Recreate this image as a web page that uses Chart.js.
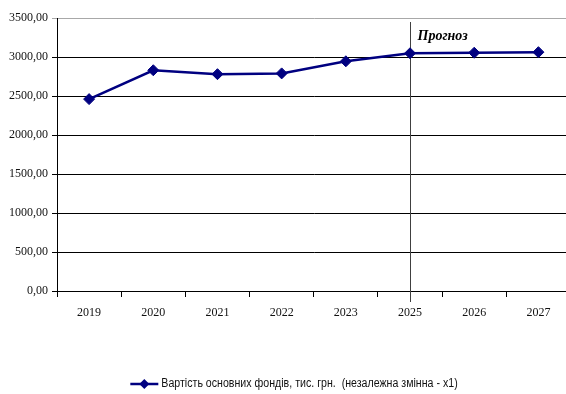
<!DOCTYPE html>
<html>
<head>
<meta charset="utf-8">
<script src="https://cdn.jsdelivr.net/npm/chart.js@4/dist/chart.umd.min.js"></script>
<style>
html,body{margin:0;padding:0;background:#fff;overflow:hidden;width:566px;height:394px;}
#wrap{width:566px;height:394px;overflow:hidden;position:relative;}
#c{display:block;position:absolute;left:0;top:0;}
</style>
</head>
<body>
<div id="wrap"><canvas id="c" width="577" height="394" style="width:577px;height:394px"></canvas></div>
<script>
const categories = ['2019', '2020', '2021', '2022', '2023', '2025', '2026', '2027'];
const values = [2460, 2830, 2780, 2790, 2945, 3048, 3055, 3062];
const seriesLabel = 'Вартість основних фондів, тис. грн.  (незалежна змінна - x1)';
const forecastLabel = 'Прогноз';
const forecastIndex = 5;
const yMin = 0, yMax = 3500, yStep = 500;

const navy = '#000080';

const forecastPlugin = {
  id: 'forecast',
  beforeDatasetsDraw(chart) {
    const {ctx, chartArea, scales} = chart;
    const x = Math.round(scales.x.getPixelForValue(forecastIndex)) + 0.5;
    ctx.save();
    ctx.strokeStyle = '#404040';
    ctx.lineWidth = 1;
    ctx.beginPath();
    ctx.moveTo(x, chartArea.top + 4);
    ctx.lineTo(x, chartArea.bottom + 11);
    ctx.stroke();
    ctx.fillStyle = '#000';
    ctx.font = 'italic bold 14px "Liberation Serif"';
    ctx.textBaseline = 'alphabetic';
    ctx.fillText(forecastLabel, x + 7, chartArea.top + 22);
    ctx.restore();
  }
};

const legendPlugin = {
  id: 'customLegend',
  afterDraw(chart) {
    const {ctx} = chart;
    ctx.save();
    ctx.font = '12px "Liberation Sans"';
    const sx = 0.885;
    const tw = ctx.measureText(seriesLabel).width * sx;
    const lineW = 28, gap = 3;
    const total = lineW + gap + tw;
    const cx = 294;
    const x0 = cx - total / 2;
    const y = 384;
    ctx.strokeStyle = navy;
    ctx.lineWidth = 2.5;
    ctx.beginPath();
    ctx.moveTo(x0, y);
    ctx.lineTo(x0 + lineW, y);
    ctx.stroke();
    ctx.fillStyle = navy;
    const mx = x0 + lineW / 2, r = 5;
    ctx.beginPath();
    ctx.moveTo(mx, y - r); ctx.lineTo(mx + r, y); ctx.lineTo(mx, y + r); ctx.lineTo(mx - r, y); ctx.closePath();
    ctx.fill();
    ctx.fillStyle = '#111';
    ctx.textBaseline = 'middle';
    ctx.translate(x0 + lineW + gap, y);
    ctx.scale(sx, 1);
    ctx.fillText(seriesLabel, 0, 0);
    ctx.restore();
  }
};

new Chart(document.getElementById('c'), {
  type: 'line',
  data: {
    labels: categories,
    datasets: [{
      label: seriesLabel,
      data: values,
      borderColor: navy,
      backgroundColor: navy,
      borderWidth: 2.5,
      tension: 0,
      pointStyle: 'rectRot',
      pointRadius: 5.5,
      pointHoverRadius: 5.5,
      pointBackgroundColor: navy,
      pointBorderColor: navy,
      pointBorderWidth: 1
    }]
  },
  options: {
    responsive: false,
    maintainAspectRatio: false,
    animation: false,
    devicePixelRatio: 1,
    events: [],
    layout: {padding: {top: 18, left: 0, right: 0, bottom: 0}},
    plugins: {legend: {display: false}, tooltip: {enabled: false}},
    scales: {
      x: {
        type: 'category',
        offset: true,
        grid: {offset: true, drawOnChartArea: false, drawTicks: true, tickLength: 6, color: '#000', lineWidth: 1},
        border: {display: true, color: '#000', width: 1},
        ticks: {font: {family: '"Liberation Serif"', size: 12}, color: '#111', padding: 9, maxRotation: 0},
        afterFit(scale) { scale.height = 103; }
      },
      y: {
        min: yMin, max: yMax,
        grid: {
          color: (c) => c.tick && c.tick.value === yMax ? '#a8a8a8' : '#000',
          lineWidth: 1,
          tickLength: 5,
          drawTicks: true
        },
        border: {display: true, color: '#000', width: 1},
        ticks: {
          stepSize: yStep,
          font: {family: '"Liberation Serif"', size: 12},
          color: '#111',
          padding: 4,
          callback: (v) => v.toFixed(2).replace('.', ',')
        },
        afterFit(scale) { scale.width = 57; }
      }
    }
  },
  plugins: [forecastPlugin, legendPlugin]
});
</script>
</body>
</html>
